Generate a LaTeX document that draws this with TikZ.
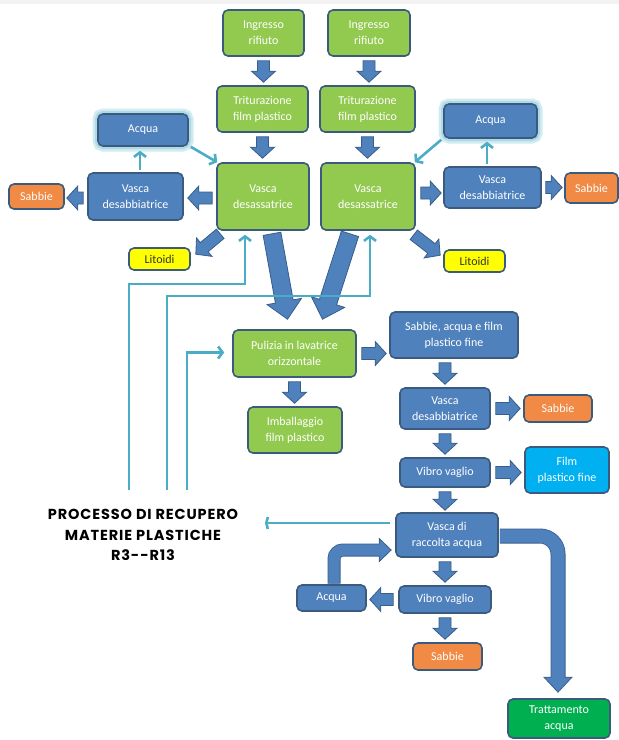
\documentclass[tikz,border=0pt]{standalone}
\usepackage{fontspec}
\setmainfont{Carlito}
\newfontfamily\ttlfont[LetterSpace=6]{Poppins}
\usetikzlibrary{calc,arrows.meta}
\definecolor{gfill}{HTML}{92C94F}
\definecolor{bfill}{HTML}{4F81BD}
\definecolor{bord}{HTML}{3B5B7E}
\definecolor{ofill}{HTML}{F08A45}
\definecolor{yfill}{HTML}{FFFF00}
\definecolor{cfill}{HTML}{00B0F0}
\definecolor{tfill}{HTML}{00B050}
\definecolor{lblue}{HTML}{4BACC6}
\definecolor{aborder}{HTML}{385D8A}
\newcommand\barrow[5]{%
  \path (#1) coordinate (ba-s) (#2) coordinate (ba-e);
  \path ($(ba-e)!#5pt!(ba-s)$) coordinate (ba-m);
  \filldraw[blockarrow] ($(ba-s)!#3pt!90:(ba-e)$) -- ($(ba-m)!#3pt!-90:(ba-s)$) -- ($(ba-m)!#4pt!-90:(ba-s)$) -- (ba-e) -- ($(ba-m)!#4pt!90:(ba-s)$) -- ($(ba-m)!#3pt!90:(ba-s)$) -- ($(ba-s)!#3pt!-90:(ba-e)$) -- cycle;}
\newcommand\sarrow[2]{\barrow{#1}{#2}{6}{12}{11}}
\tikzset{
 box/.style={rectangle, rounded corners=5pt, draw=bord, line width=1.6pt, align=center, inner sep=1pt, font=\fontsize{12}{16}\selectfont, text=white},
 gbox/.style={box, fill=gfill},
 bbox/.style={box, fill=bfill},
 obox/.style={box, fill=ofill},
 ybox/.style={box, fill=yfill, text=black!80},
 cbox/.style={box, fill=cfill},
 tbox/.style={box, fill=tfill},
 glow/.style={preaction={draw=lblue!25, line width=11pt}, preaction={draw=lblue!45, line width=6pt}},
 lb/.style={draw=lblue, line width=2.6pt, -{Straight Barb[length=4.5pt,width=12pt]}},
 lbt/.style={draw=lblue, line width=2.6pt, -{Straight Barb[length=1.5pt,width=12pt]}},
 blockarrow/.style={fill=bfill, draw=aborder, line width=0.8pt, line join=miter},
 sz/.style n args={2}{minimum width=#1pt, minimum height=#2pt},
}
\begin{document}
\begin{tikzpicture}[x=1pt,y=-1pt]
\useasboundingbox (0,0) rectangle (619,740);
\fill[black!5] (0,0) rectangle (619,4);
% nodes
\node[gbox, sz={81}{46}] (in1) at (263.5,33) {Ingresso\\rifiuto};
\node[gbox, sz={82}{46}] (in2) at (369,33) {Ingresso\\rifiuto};
\node[gbox, sz={91}{46}] (tr1) at (262.5,109) {Triturazione\\film plastico};
\node[gbox, sz={95}{46}] (tr2) at (367.5,109) {Triturazione\\film plastico};
\node[gbox, sz={92}{67}] (vd1) at (263,196.5) {Vasca\\desassatrice};
\node[gbox, sz={94}{67}] (vd2) at (368,196.5) {Vasca\\desassatrice};
\node[bbox, glow, sz={90}{32}] (aq1) at (143,130) {Acqua};
\node[bbox, glow, sz={93}{34}] (aq2) at (490.5,121) {Acqua};
\node[bbox, sz={95}{47}] (vs1) at (135.5,196.5) {Vasca\\desabbiatrice};
\node[bbox, sz={97}{41}] (vs2) at (492.5,187.5) {Vasca\\desabbiatrice};
\node[obox, sz={55}{25}] (sa1) at (36.5,196.5) {Sabbie};
\node[obox, sz={53}{30}] (sa2) at (591.5,188) {Sabbie};
\node[ybox, sz={61}{22}] (li1) at (159.5,259) {Litoidi};
\node[ybox, sz={61}{22}] (li2) at (474.5,261) {Litoidi};
\node[gbox, sz={123}{47}] (pul) at (294.5,353.5) {Pulizia in lavatrice\\orizzontale};
\node[gbox, sz={94}{46}] (imb) at (295,430) {Imballaggio\\film plastico};
\node[bbox, sz={128}{46}] (saf) at (454,335) {Sabbie, acqua e film\\plastico fine};
\node[bbox, sz={90}{41}] (vs3) at (445,408.5) {Vasca\\desabbiatrice};
\node[obox, sz={68}{27}] (sa3) at (558,408.5) {Sabbie};
\node[bbox, sz={90}{29}] (vv1) at (445,472.5) {Vibro vaglio};
\node[cbox, sz={84}{46}] (fpf) at (567,470) {Film\\plastico fine};
\node[bbox, sz={102}{44}] (rac) at (447,535) {Vasca di\\raccolta acqua};
\node[bbox, sz={92}{27}] (vv2) at (445,599.5) {Vibro vaglio};
\node[bbox, sz={69}{26}] (aq3) at (331.5,598) {Acqua};
\node[obox, sz={69}{27}] (sa4) at (447.5,656.5) {Sabbie};
\node[tbox, sz={102}{39}] (tra) at (559,718.5) {Trattamento\\acqua};
\node[font=\ttlfont\bfseries\fontsize{14.5}{20.5}\selectfont, align=center] (ttl) at (143,535) {PROCESSO DI RECUPERO\\MATERIE PLASTICHE\\R3-{}-R13};
% block arrows
\sarrow{$(in1.south)+(0,4)$}{$(in1.south |- tr1.north)+(0,-3)$}
\sarrow{$(tr1.south)+(0,4)$}{$(tr1.south |- vd1.north)+(0,-4)$}
\sarrow{$(in2.south)+(0,4)$}{$(in2.south |- tr2.north)+(0,-3)$}
\sarrow{$(tr2.south)+(0,4)$}{$(tr2.south |- vd2.north)+(0,-4)$}
\sarrow{$(vd1.west)+(-4,1.5)$}{$(vs1.east)+(4,1.5)$}
\sarrow{$(vs1.west)+(-4,1.5)$}{$(sa1.east)+(2,1.5)$}
\sarrow{$(vd1.south west)+(4,3)$}{$(li1.north east)+(5,7)$}
\sarrow{$(vd2.east)+(5,-3.5)$}{$(vs2.west)+(-2,5.5)$}
\sarrow{$(vs2.east)+(4,0)$}{$(vs2.east -| sa2.west)+(-2,0)$}
\sarrow{$(vd2.south east)+(-2,4)$}{$(li2.north west)+(-3,6)$}
\barrow{$(vd1.south)+(9,3)$}{$(pul.north)+(-7,-10)$}{9}{17.5}{18}
\barrow{$(vd2.south)+(-18,3)$}{$(pul.north)+(28,-10)$}{9}{17.5}{18}
\sarrow{$(pul.east)+(5,0)$}{$(pul.east -| saf.west)+(-3,0)$}
\sarrow{$(pul.south)+(0,4)$}{$(pul.south |- imb.north)+(0,-3)$}
\sarrow{$(vs3.north |- saf.south)+(0,4)$}{$(vs3.north)+(0,-3)$}
\sarrow{$(vs3.east)+(5,0)$}{$(vs3.east -| sa3.west)+(-3,0)$}
\sarrow{$(vs3.south)+(0,4)$}{$(vv1.north)+(0,-3)$}
\sarrow{$(vv1.east)+(5,0)$}{$(vv1.east -| fpf.west)+(-3,0)$}
\sarrow{$(vv1.south)+(0,4)$}{$(vv1.south |- rac.north)+(0,-2)$}
\sarrow{$(vv2.north |- rac.south)+(0,4)$}{$(vv2.north)+(0,-3)$}
\sarrow{$(vv2.west)+(-5,0)$}{$(vv2.west -| aq3.east)+(3,0)$}
\sarrow{$(vv2.south)+(0,4)$}{$(vv2.south |- sa4.north)+(0,-3)$}
% bent arrow acqua -> vasca di raccolta
\coordinate (b1s) at ($(aq3.north)+(2.5,-0.5)$);
\coordinate (b1t) at ($(rac.west)+(-4,15)$);
\draw[line width=13pt, draw=aborder, rounded corners=9pt] (b1s) |- ($(b1t)+(-11,0)$);
\filldraw[blockarrow] (b1t) -- ++(-12,-11.5) -- ++(0,23) -- cycle;
\draw[line width=11.4pt, draw=bfill, rounded corners=9pt] (b1s) |- ($(b1t)+(-11,0)$);
% bent arrow vasca di raccolta -> trattamento
\coordinate (b2s) at ($(rac.east)+(1,1)$);
\coordinate (b2t) at ($(tra.north)+(-1,-6)$);
\draw[line width=15pt, draw=aborder, rounded corners=18pt] (b2s) -| ($(b2t)+(0,-14)$);
\filldraw[blockarrow] (b2t) -- ++(-14,-15) -- ++(28,0) -- cycle;
\draw[line width=13.4pt, draw=bfill, rounded corners=18pt] (b2s) -| ($(b2t)+(0,-14)$);
% light blue connectors
\coordinate (t1) at ($(vs1.north)+(4.5,-2)$);
\draw[lb] (t1) -- ($(t1 |- aq1.south)+(0,4)$);
\coordinate (t2) at ($(vs2.north)+(-5.5,-2)$);
\draw[lb] (t2) -- ($(t2 |- aq2.south)+(0,3)$);
\draw[lb] ($(aq1.south east)+(2,0)$) -- ($(vd1.north west)+(1,0)$);
\draw[lb] ($(aq2.south west)+(-2,1)$) -- ($(vd2.north east)+(-1,0)$);
\coordinate (c1) at (129,490);
\coordinate (c2) at (167,490);
\coordinate (c3) at (187,490);
\coordinate (c4) at (265,523);
\draw[lb] (c1) |- ($(vd1.south)+(-18,53)$) -- ($(vd1.south)+(-18,4)$);
\draw[lb] (c2) |- ($(vd2.south)+(2,65)$) -- ($(vd2.south)+(2,4)$);
\draw[lb] (c3) |- ($(pul.west)+(-8,-1)$);
\draw[lbt] ($(rac.west)+(-5,-12)$) -- (c4);
\end{tikzpicture}
\end{document}
